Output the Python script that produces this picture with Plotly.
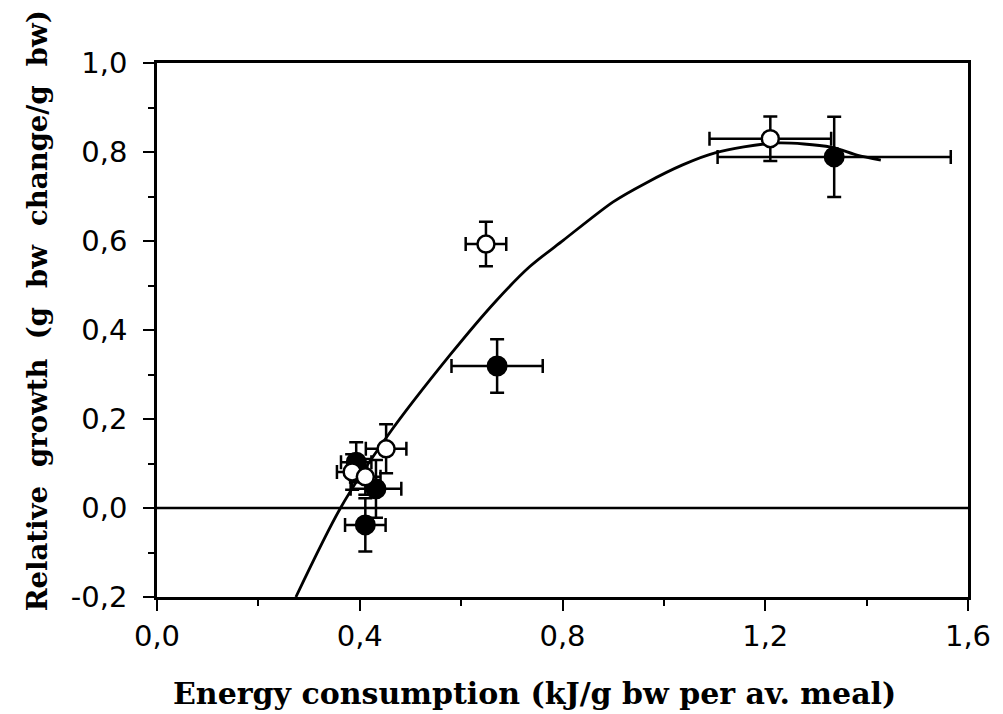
import plotly.graph_objects as go

# Data
open_x = [1.21, 0.649, 0.452, 0.385, 0.411]
open_y = [0.83, 0.593, 0.133, 0.081, 0.07]
open_xerr = [0.12, 0.04, 0.04, 0.03, 0.03]
open_yerr = [0.05, 0.05, 0.055, 0.04, 0.04]

filled_x = [1.336, 0.671, 0.432, 0.411, 0.393]
filled_y = [0.789, 0.319, 0.043, -0.038, 0.103]
filled_xerr = [0.23, 0.09, 0.05, 0.04, 0.03]
filled_yerr = [0.09, 0.06, 0.065, 0.06, 0.045]

curve_x = [0.274, 0.362, 0.456, 0.579, 0.667, 0.735, 0.802, 0.900, 0.964,
           1.037, 1.101, 1.218, 1.330, 1.381, 1.428]
curve_y = [-0.2, 0.0, 0.164, 0.345, 0.463, 0.542, 0.602, 0.688, 0.730,
           0.771, 0.798, 0.820, 0.811, 0.793, 0.782]

ref_x = [0.0, 1.6]
ref_y = [0.0, 0.0]

x_ticks = [0.0, 0.4, 0.8, 1.2, 1.6]
x_ticktext = ["0,0", "0,4", "0,8", "1,2", "1,6"]
y_ticks = [-0.2, 0.0, 0.2, 0.4, 0.6, 0.8, 1.0]
y_ticktext = ["-0,2", "0,0", "0,2", "0,4", "0,6", "0,8", "1,0"]

x_title = "<b>Energy consumption (kJ/g bw per av. meal)</b>"
y_title = "<b>Relative\u00a0\u00a0growth\u00a0\u00a0(g\u00a0\u00a0bw\u00a0\u00a0change/g\u00a0\u00a0bw)</b>"

fig = go.Figure()

fig.add_trace(go.Scatter(x=ref_x, y=ref_y, mode="lines",
                         line=dict(color="black", width=2.5),
                         showlegend=False, hoverinfo="skip"))
fig.add_trace(go.Scatter(x=curve_x, y=curve_y, mode="lines",
                         line=dict(color="black", width=2.8, shape="spline", smoothing=0.8),
                         showlegend=False))

err_style = dict(type="data", color="black", thickness=2.5, width=7, visible=True)
fig.add_trace(go.Scatter(
    x=filled_x, y=filled_y, mode="markers",
    marker=dict(symbol="circle", size=19, color="black", line=dict(color="black", width=2)),
    error_x=dict(array=filled_xerr, **err_style),
    error_y=dict(array=filled_yerr, **err_style),
    showlegend=False))
fig.add_trace(go.Scatter(
    x=open_x, y=open_y, mode="markers",
    marker=dict(symbol="circle", size=17, color="white", line=dict(color="black", width=2.5)),
    error_x=dict(array=open_xerr, **err_style),
    error_y=dict(array=open_yerr, **err_style),
    showlegend=False))

tick_font = dict(family="DejaVu Sans, Arial, sans-serif", size=29, color="black")
xtitle_font = dict(family="DejaVu Serif, Times New Roman, serif", size=30, color="black")
ytitle_font = dict(family="DejaVu Serif, Times New Roman, serif", size=27.5, color="black")

fig.update_layout(
    width=1003, height=714,
    margin=dict(l=157, r=28, t=63, b=117),
    paper_bgcolor="white", plot_bgcolor="white",
    xaxis=dict(range=[0, 1.6], tickvals=x_ticks, ticktext=x_ticktext,
               showgrid=False, zeroline=False, showline=True, linecolor="black",
               linewidth=2.5, mirror=True, ticks="outside", ticklen=11, tickwidth=2,
               tickcolor="black", tickfont=tick_font,
               minor=dict(ticks="outside", ticklen=6, tickwidth=2, dtick=0.2, tick0=0,
                          tickcolor="black", showgrid=False)),
    yaxis=dict(range=[-0.2, 1.0], tickvals=y_ticks, ticktext=y_ticktext,
               showgrid=False, zeroline=False, showline=True, linecolor="black",
               linewidth=2.5, mirror=True, ticks="outside", ticklen=11, tickwidth=2,
               tickcolor="black", tickfont=tick_font, ticklabelstandoff=10,
               minor=dict(ticks="outside", ticklen=6, tickwidth=2, dtick=0.1, tick0=0,
                          tickcolor="black", showgrid=False)),
    annotations=[
        dict(text=x_title, xref="paper", yref="paper", x=0.466, y=0,
             xanchor="center", yanchor="middle", yshift=-96, showarrow=False,
             font=xtitle_font),
        dict(text=y_title, xref="paper", yref="paper", x=0, y=0.535,
             xanchor="center", yanchor="middle", xshift=-120, showarrow=False,
             textangle=-90, font=ytitle_font),
    ],
)

fig.write_html("out.html")
